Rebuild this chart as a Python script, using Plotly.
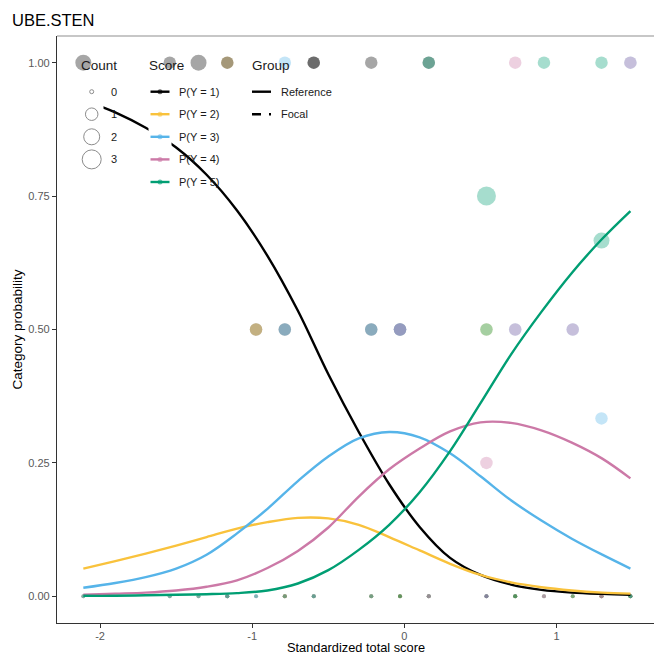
import plotly.graph_objects as go

# ---------------- data ----------------
chart_title = "UBE.STEN"
x_title = "Standardized total score"
y_title = "Category probability"
categories = ["P(Y = 1)", "P(Y = 2)", "P(Y = 3)", "P(Y = 4)", "P(Y = 5)"]
groups = ["Reference", "Focal"]
count_levels = [0, 1, 2, 3]
x_ticks = [-2, -1, 0, 1]
y_ticks = [0.0, 0.25, 0.5, 0.75, 1.0]

# fitted category probability curves (reference group)
curve_x = [-2.11, -1.9, -1.7, -1.5, -1.3, -1.1, -0.9, -0.7, -0.5, -0.3,
           -0.1, 0.1, 0.3, 0.5, 0.7, 0.9, 1.1, 1.3, 1.485]
p_y1 = [0.930, 0.907, 0.878, 0.841, 0.790, 0.723, 0.638, 0.535, 0.416, 0.308,
        0.210, 0.130, 0.072, 0.040, 0.022, 0.012, 0.007, 0.0045, 0.003]
p_y2 = [0.052, 0.066, 0.080, 0.095, 0.111, 0.127, 0.139, 0.147, 0.146, 0.134,
        0.111, 0.086, 0.061, 0.040, 0.026, 0.017, 0.011, 0.007, 0.005]
p_y3 = [0.016, 0.025, 0.036, 0.052, 0.078, 0.118, 0.164, 0.216, 0.262, 0.296,
        0.308, 0.298, 0.268, 0.225, 0.180, 0.142, 0.108, 0.078, 0.052]
p_y4 = [0.003, 0.005, 0.007, 0.011, 0.018, 0.030, 0.053, 0.085, 0.129, 0.187,
        0.238, 0.277, 0.309, 0.326, 0.325, 0.311, 0.288, 0.258, 0.221]
p_y5 = [0.001, 0.001, 0.002, 0.003, 0.004, 0.006, 0.011, 0.024, 0.049, 0.087,
        0.134, 0.195, 0.272, 0.362, 0.453, 0.533, 0.606, 0.670, 0.722]

# empirical counts per standardized total score, per response category
score_x = [-2.110, -1.542, -1.353, -1.164, -0.975, -0.786, -0.596, -0.218,
           -0.029, 0.160, 0.539, 0.728, 0.917, 1.106, 1.295, 1.485]
ref_counts = [
    [2, 0, 0, 0, 0], [1, 0, 0, 0, 0], [2, 0, 0, 0, 0], [0, 1, 0, 0, 0],
    [1, 1, 0, 0, 0], [0, 0, 1, 0, 0], [1, 0, 0, 0, 0], [1, 0, 0, 0, 0],
    [1, 0, 1, 0, 0], [1, 0, 0, 0, 0], [0, 0, 0, 1, 3], [0, 0, 0, 1, 0],
    [0, 0, 0, 0, 1], [0, 0, 1, 1, 0], [0, 0, 1, 0, 2], [0, 0, 1, 0, 0],
]
foc_counts = [
    [0, 0, 0, 0, 0], [0, 0, 0, 0, 0], [0, 0, 0, 0, 0], [1, 0, 0, 0, 0],
    [0, 0, 0, 0, 0], [1, 0, 1, 0, 0], [1, 0, 0, 0, 0], [1, 0, 1, 0, 0],
    [0, 0, 1, 1, 0], [0, 0, 0, 0, 1], [0, 1, 0, 0, 1], [0, 0, 1, 1, 0],
    [0, 0, 0, 0, 0], [0, 0, 0, 0, 0], [0, 0, 0, 0, 1], [0, 0, 0, 1, 0],
]

# ---------------- styles ----------------
colors = ["#000000", "#F9C23C", "#56B4E9", "#CC79A7", "#009E73"]
size_of_count = {0: 4, 1: 12.5, 2: 16, 3: 19}
FONT = "Liberation Sans, Arial, Helvetica, sans-serif"
W, H = 654, 655
ML, MR, MT, MB = 57, 0, 36, 32
PW, PH = W - ML - MR, H - MT - MB


def rgba(hex_color, a):
    h = hex_color.lstrip("#")
    r, g, b = int(h[0:2], 16), int(h[2:4], 16), int(h[4:6], 16)
    return f"rgba({r},{g},{b},{a})"


def px(x):
    return (x - ML) / PW


def py(y):
    return 1 - (y - MT) / PH


fig = go.Figure()

# empirical points (reference group first, then focal)
pt_x, pt_y, pt_s, pt_c = [], [], [], []
for counts_table in (ref_counts, foc_counts):
    for sx, counts in zip(score_x, counts_table):
        total = sum(counts)
        if total == 0:
            continue
        for ci, c in enumerate(counts):
            pt_x.append(sx)
            pt_y.append(c / total)
            pt_s.append(size_of_count[c])
            pt_c.append(rgba(colors[ci], 0.5))
fig.add_trace(go.Scatter(
    x=pt_x, y=pt_y, mode="markers",
    marker=dict(size=pt_s, color=pt_c, line=dict(width=0)),
    showlegend=False, hoverinfo="skip"))

# fitted curves
for name, col, vals in zip(categories, colors, [p_y1, p_y2, p_y3, p_y4, p_y5]):
    fig.add_trace(go.Scatter(
        x=curve_x, y=vals, mode="lines", name=name,
        line=dict(color=col, width=2.4, shape="spline", smoothing=1.0),
        showlegend=False))

shapes = []
annotations = []

# top panel border line
shapes.append(dict(type="line", xref="paper", yref="paper", x0=0, x1=1, y0=1, y1=1,
                   line=dict(color="#b5b5b5", width=1.5), layer="above"))

# ---------------- manual legend ----------------
row_y = [91.7, 114.2, 136.8, 159.4, 182.0]
title_y = 65.7
key_bg = "white"
for (x0, x1, n) in [(80, 103.5, 4), (148.5, 171.5, 5), (250, 273, 2)]:
    shapes.append(dict(type="rect", xref="paper", yref="paper",
                       x0=px(x0), x1=px(x1), y0=py(row_y[0] - 11.3), y1=py(row_y[n - 1] + 11.3),
                       fillcolor=key_bg, line=dict(width=0), layer="above"))

legend_title_font = dict(family=FONT, size=13.5, color="#1a1a1a")
legend_text_font = dict(family=FONT, size=11, color="#1a1a1a")

# Count legend
annotations.append(dict(text="Count", x=px(79), y=py(title_y), xref="paper", yref="paper",
                        xanchor="left", yanchor="middle", showarrow=False, font=legend_title_font))
for i, lvl in enumerate(count_levels):
    d = size_of_count[lvl]
    cx, cy = 91.7, row_y[i]
    shapes.append(dict(type="circle", xref="paper", yref="paper",
                       x0=px(cx - d / 2), x1=px(cx + d / 2), y0=py(cy + d / 2), y1=py(cy - d / 2),
                       line=dict(color="#8c8c8c", width=1), fillcolor="rgba(0,0,0,0)", layer="above"))
    annotations.append(dict(text=str(lvl), x=px(108.5), y=py(cy), xref="paper", yref="paper",
                            xanchor="left", yanchor="middle", showarrow=False, font=legend_text_font))

# Score legend
annotations.append(dict(text="Score", x=px(147), y=py(title_y), xref="paper", yref="paper",
                        xanchor="left", yanchor="middle", showarrow=False, font=legend_title_font))
for i, (name, col) in enumerate(zip(categories, colors)):
    cy = row_y[i]
    shapes.append(dict(type="line", xref="paper", yref="paper", x0=px(150.5), x1=px(169.5),
                       y0=py(cy), y1=py(cy), line=dict(color=col, width=2.4), layer="above"))
    shapes.append(dict(type="circle", xref="paper", yref="paper",
                       x0=px(157.5), x1=px(162.5), y0=py(cy + 2.5), y1=py(cy - 2.5),
                       line=dict(width=0), fillcolor=rgba(col, 0.6), layer="above"))
    annotations.append(dict(text=name, x=px(176.5), y=py(cy), xref="paper", yref="paper",
                            xanchor="left", yanchor="middle", showarrow=False, font=legend_text_font))

# Group legend
annotations.append(dict(text="Group", x=px(249.5), y=py(title_y), xref="paper", yref="paper",
                        xanchor="left", yanchor="middle", showarrow=False, font=legend_title_font))
for i, (g, dash) in enumerate(zip(groups, ["solid", "9px,8px"])):
    cy = row_y[i]
    shapes.append(dict(type="line", xref="paper", yref="paper", x0=px(252), x1=px(271),
                       y0=py(cy), y1=py(cy), line=dict(color="black", width=2.4, dash=dash),
                       layer="above"))
    annotations.append(dict(text=g, x=px(279), y=py(cy), xref="paper", yref="paper",
                            xanchor="left", yanchor="middle", showarrow=False, font=legend_text_font))

# axis titles
annotations.append(dict(text=x_title, x=0.5, y=py(655.5), xref="paper", yref="paper",
                        xanchor="center", yanchor="bottom", showarrow=False, borderpad=0,
                        font=dict(family=FONT, size=12.8, color="#000000")))
annotations.append(dict(text=y_title, x=px(17), y=0.5, xref="paper", yref="paper",
                        xanchor="center", yanchor="middle", showarrow=False, textangle=-90,
                        font=dict(family=FONT, size=13.5, color="#000000")))

fig.update_layout(
    width=W, height=H,
    margin=dict(l=ML, r=MR, t=MT, b=MB, pad=0),
    paper_bgcolor="white", plot_bgcolor="white",
    showlegend=False,
    title=dict(text=chart_title, x=12 / W, y=1 - 20 / H, xref="container", yref="container",
               xanchor="left", yanchor="middle",
               font=dict(family=FONT, size=16.5, color="#000000")),
    shapes=shapes, annotations=annotations,
    font=dict(family=FONT),
)
fig.update_xaxes(range=[-2.283, 1.64], tickvals=x_ticks, ticktext=[str(t) for t in x_ticks],
                 showgrid=False, zeroline=False, showline=True, linecolor="#333333", linewidth=1.3,
                 ticks="outside", ticklen=4, tickwidth=1.1, tickcolor="#333333",
                 ticklabelstandoff=-1,
                 tickfont=dict(family=FONT, size=11, color="#595959"))
fig.update_yaxes(range=[-0.05, 1.05], tickvals=y_ticks, tickformat=".2f",
                 showgrid=False, zeroline=False, showline=True, linecolor="#333333", linewidth=1.3,
                 ticks="outside", ticklen=4, tickwidth=1.1, tickcolor="#333333",
                 tickfont=dict(family=FONT, size=11, color="#595959"))

fig.write_html(
    "out.html",
    config={"displayModeBar": False},
    post_script=(
        "document.body.style.margin='0';"
        "document.body.style.overflow='hidden';"
        "document.documentElement.style.overflow='hidden';"
    ),
)
